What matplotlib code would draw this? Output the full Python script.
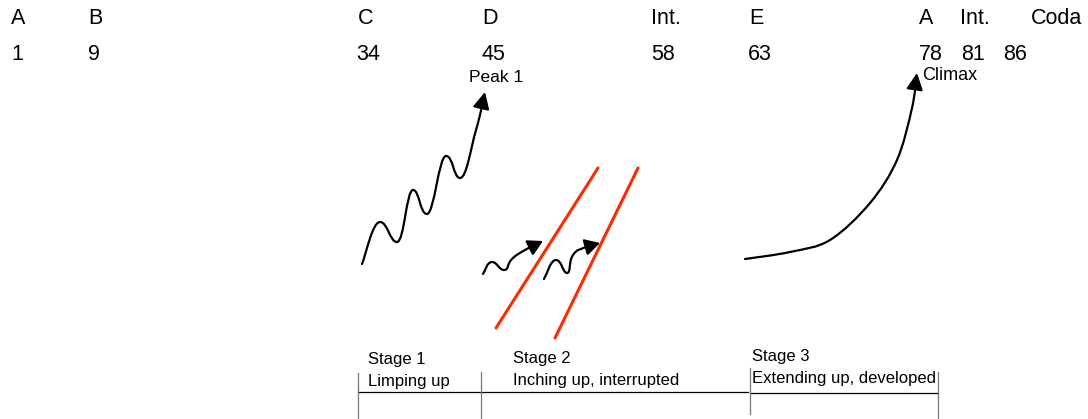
import numpy as np
import matplotlib.pyplot as plt
from matplotlib.path import Path
from matplotlib.patches import FancyArrowPatch

plt.rcParams['font.family'] = ['Liberation Sans', 'DejaVu Sans']

# form sections and the bar where each one starts
sections = ["A", "B", "C", "D", "Int.", "E", "A", "Int.", "Coda"]
bars = [1, 9, 34, 45, 58, 63, 78, 81, 86]
sec_x = [11, 88, 358, 482, 651, 749, 919, 960, 1031]
bar_x = [11, 88, 356, 481, 651, 748, 919, 961, 1003]

stages = ["Stage 1", "Stage 2", "Stage 3"]
stage_desc = ["Limping up", "Inching up, interrupted", "Extending up, developed"]


def smooth_path(pts, k=6.0):
    # catmull-rom through the points, as cubic bezier pieces;
    # local highs/lows get a flat tangent so the waves stay round
    pts = np.asarray(pts, float)
    n = len(pts)
    tang = []
    for i in range(n):
        p0 = pts[max(i - 1, 0)]
        p2 = pts[min(i + 1, n - 1)]
        t = (p2 - p0) / k
        if 0 < i < n - 1:
            dy1 = pts[i, 1] - p0[1]
            dy2 = p2[1] - pts[i, 1]
            if dy1 * dy2 < 0:
                t = np.array([t[0], 0.0])
        tang.append(t)
    verts = [pts[0]]
    codes = [Path.MOVETO]
    for i in range(n - 1):
        verts += [pts[i] + tang[i], pts[i + 1] - tang[i + 1], pts[i + 1]]
        codes += [Path.CURVE4] * 3
    return Path(verts, codes)


def arrow_curve(ax, pts, hl=10, hw=5, k=6.0):
    a = FancyArrowPatch(path=smooth_path(pts, k),
                        arrowstyle='-|>,head_length=%g,head_width=%g' % (hl / 1.4, hw / 1.4),
                        lw=1.6, color='black', mutation_scale=1.4,
                        shrinkA=0, shrinkB=0, joinstyle='round', capstyle='round')
    ax.add_patch(a)


fig = plt.figure(figsize=(10.88, 4.19), dpi=100)
ax = fig.add_axes([0, 0, 1, 1])
ax.set_xlim(0, 1088)
ax.set_ylim(419, 0)
ax.axis('off')

for s, x in zip(sections, sec_x):
    ax.text(x, 19, s, fontsize=15.5, ha='left', va='center')
for b, x in zip(bars, bar_x):
    ax.text(x, 55, str(b), fontsize=15.5, ha='left', va='center')

# stage 1: wavy climb to peak 1
arrow_curve(ax, [(362, 264), (380, 222), (397, 242), (413, 190), (427, 214),
                 (446, 156), (460, 178), (476, 130), (485, 92)], k=4.5)
ax.text(496, 77, "Peak 1", fontsize=12.5, ha='center', va='center')

# stage 2: two small wiggles stopped by red walls
arrow_curve(ax, [(483, 274), (492, 262), (504, 270), (512, 259), (525, 250), (543, 241)], hl=9, hw=5, k=4)
arrow_curve(ax, [(544, 279), (556, 260), (567, 273), (573, 255), (586, 247), (600, 243)], hl=9, hw=5, k=4)
ax.plot([496, 598], [328, 168], color='#ff2a00', lw=2.2, solid_capstyle='round')
ax.plot([555, 638], [338, 168], color='#ff2a00', lw=2.2, solid_capstyle='round')

# stage 3: steady build to climax
arrow_curve(ax, [(745, 259), (790, 252), (830, 240), (870, 203), (897, 160), (912, 108), (917, 73)])
ax.text(922, 76, "Climax", fontsize=13, ha='left', va='center')

# stage table at the bottom
stage_x = [368, 513, 752]
stage_y = [359, 358, 356]
for s, d, x, y in zip(stages, stage_desc, stage_x, stage_y):
    ax.text(x, y, s, fontsize=12, ha='left', va='center')
    ax.text(x, y + 22, d, fontsize=12, ha='left', va='center')

ax.plot([358, 748], [392, 392], color='black', lw=0.9)
ax.plot([750, 938], [393, 393], color='black', lw=0.9)
for x, y0, y1 in [(358, 373, 419), (481, 372, 419), (750, 368, 414), (938, 372, 419)]:
    ax.plot([x, x], [y0, y1], color='#777777', lw=0.9)

fig.savefig('out.png', dpi=100)
